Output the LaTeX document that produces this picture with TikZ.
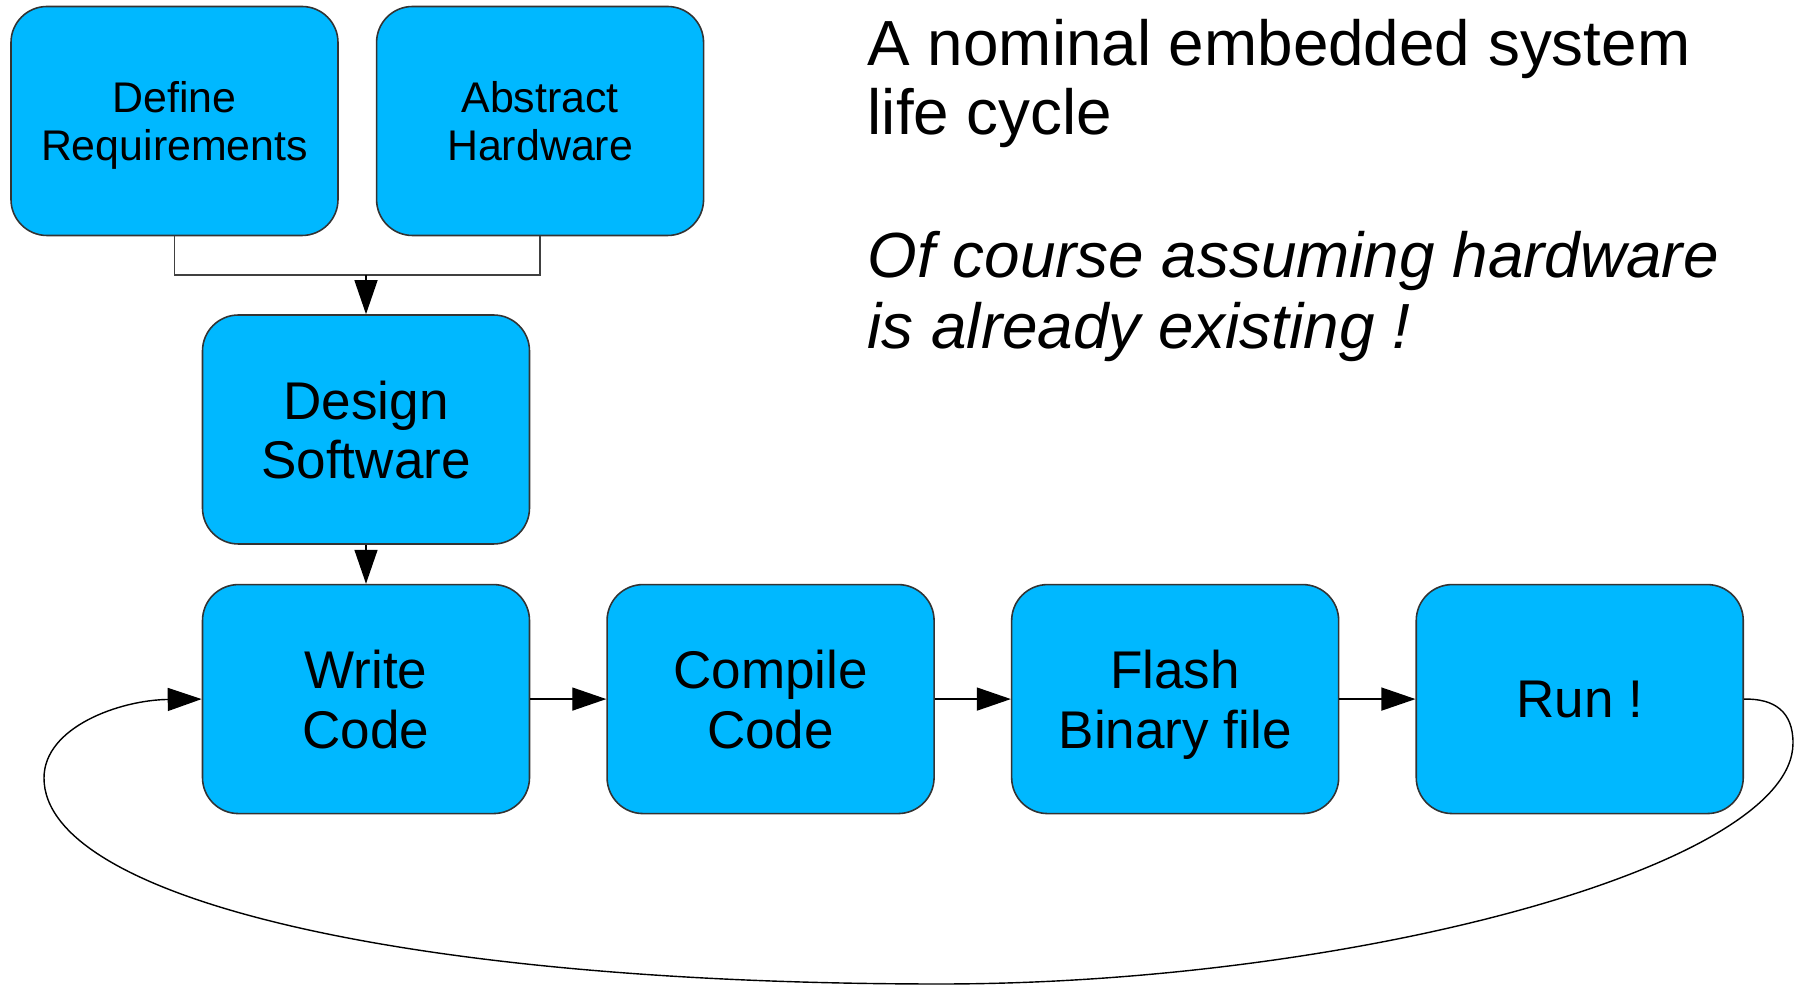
\documentclass[tikz,border=0pt]{standalone}
\usepackage{fontspec}
\setmainfont{Liberation Sans}
\usepackage{xcolor}
\usepackage{tikz}
\usetikzlibrary{shapes,arrows,positioning,calc,arrows.meta}
\definecolor{skyfill}{HTML}{00B8FF}

\begin{document}
\begin{tikzpicture}[
    stage/.style={draw=black!80, line width=0.45pt, fill=skyfill, rounded corners=0.36cm,
        minimum width=3.27cm, minimum height=2.29cm, inner sep=0pt, align=center, text depth=0pt},
    small/.style={font=\fontsize{12.2pt}{13.9pt}\selectfont},
    big/.style={font=\fontsize{15.1pt}{16.9pt}\selectfont},
    flow/.style={draw=black, line width=0.4pt, -{Triangle[length=3.4mm,width=2.3mm]}},
    title/.style={anchor=base west, inner sep=0pt, font=\fontsize{18.15pt}{20pt}\selectfont}
]
    \useasboundingbox (0,0) rectangle (17.95,9.87);

    % Top boxes
    \node[stage, small] (define) at (1.745,8.66) {Define\\Requirements};
    \node[stage, small, right=0.37cm of define] (abstract) {Abstract\\Hardware};
    \node[stage, big] (design) at (3.66,5.575) {Design\\Software};

    % Main row
    \node[stage, big, below=0.39cm of design] (write) {Write\\Code};
    \node[stage, big, right=0.76cm of write] (compile) {Compile\\Code};
    \node[stage, big, right=0.76cm of compile] (flash) {Flash\\Binary file};
    \node[stage, big, right=0.76cm of flash] (run) {Run !};

    % Merge
    \coordinate (merge) at (design.north |- 0,7.12);
    \draw[black!75, line width=0.4pt] (define.south) |- (merge) -| (abstract.south);
    \draw[flow] (merge) -- (design.north);
    \draw[flow] (design.south) -- (write.north);

    % Chain
    \draw[flow] (write.east) -- (compile.west);
    \draw[flow] (compile.east) -- (flash.west);
    \draw[flow] (flash.east) -- (run.west);

    % Loop back
    \draw[flow] (run.east) .. controls (17.75,2.885) and (17.93,2.75) .. (17.93,2.44)
        .. controls (17.93,1.2) and (13.5,0.03) .. (9.4,0.03)
        .. controls (4.0,0.03) and (0.44,0.9) .. (0.44,2.09)
        .. controls (0.44,2.6) and (1.2,2.87) .. (write.west);

    % Text
    \node[title] (title1) at (8.67,9.21) {A nominal embedded system};
    \node[title] (title2) at (8.67,8.52) {life cycle};
    \node[title, font=\fontsize{18.15pt}{20pt}\selectfont\itshape] (note1) at (8.67,7.09) {Of course assuming hardware};
    \node[title, font=\fontsize{18.15pt}{20pt}\selectfont\itshape] (note2) at (8.67,6.38) {is already existing !};
\end{tikzpicture}
\end{document}
